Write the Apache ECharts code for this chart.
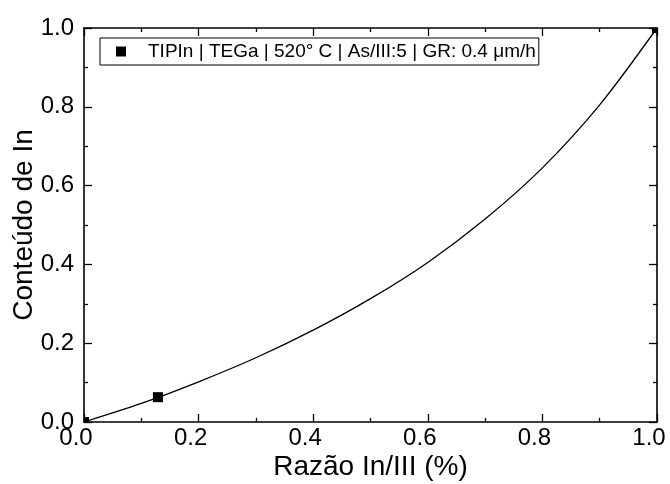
<!DOCTYPE html>
<html>
<head>
<meta charset="utf-8">
<script src="https://cdn.jsdelivr.net/npm/echarts@6/dist/echarts.min.js"></script>
<style>html,body{margin:0;padding:0;background:#fff}#c{width:670px;height:484px}</style>
</head>
<body>
<div id="c"></div>
<script>
// measured points
const pointX = [0.0, 0.129, 1.0];
const pointY = [0.0, 0.063, 1.0];
// fitted curve
const curveX = [0.0, 0.1, 0.2, 0.3, 0.4, 0.5, 0.6, 0.7, 0.8, 0.9, 1.0];
const curveY = [0.0, 0.047, 0.102, 0.163, 0.233, 0.313, 0.405, 0.515, 0.645, 0.805, 1.0];
const seriesName = 'TIPIn | TEGa | 520° C | As/III:5 | GR: 0.4 μm/h';
const xTitle = 'Razão In/III (%)';
const yTitle = 'Conteúdo de In';

const font = 'Arial, "Liberation Sans", sans-serif';
const chart = echarts.init(document.getElementById('c'));

function axisBase(show) {
  return {
    type: 'value', min: 0, max: 1, interval: 0.2,
    axisLine: { show: true, onZero: false, lineStyle: { color: '#000', width: 1.6 } },
    axisTick: { show: true, inside: true, length: 8, lineStyle: { color: '#000', width: 1.3 } },
    minorTick: { show: true, splitNumber: 2, length: 4, lineStyle: { color: '#000', width: 1.3 } },
    splitLine: { show: false },
    axisLabel: { show: show, color: '#000', fontSize: 24, fontFamily: font,
      formatter: v => v.toFixed(1) }
  };
}

const xMain = Object.assign(axisBase(true), {
  position: 'bottom', name: xTitle, nameLocation: 'middle', nameGap: 31,
  nameMoveOverlap: false,
  nameTextStyle: { color: '#000', fontSize: 28, fontFamily: font },
});
xMain.axisLabel.margin = 4;
xMain.axisLabel.padding = [0, 16, 0, 0];
const xTop = Object.assign(axisBase(false), { position: 'top' });
const yMain = Object.assign(axisBase(true), {
  position: 'left', name: yTitle, nameLocation: 'middle', nameGap: 46,
  nameMoveOverlap: false,
  nameTextStyle: { color: '#000', fontSize: 28, fontFamily: font },
});
yMain.axisLabel.margin = 10;
const yRight = Object.assign(axisBase(false), { position: 'right' });

const pts = pointX.map((x, i) => [x, pointY[i]]);
chart.setOption({
  animation: false,
  backgroundColor: '#fff',
  grid: { left: 84, right: 13, top: 28, bottom: 62, containLabel: false, outerBoundsMode: 'none' },
  xAxis: [xMain, xTop],
  yAxis: [yMain, yRight],
  legend: {
    data: [seriesName],
    left: 100, top: 38,
    orient: 'horizontal',
    borderColor: '#000', borderWidth: 1,
    padding: [4, 3, 4, 16],
    itemWidth: 10, itemHeight: 10,
    icon: 'rect',
    itemStyle: { color: '#000', opacity: 1 },
    textStyle: { color: '#000', fontSize: 19, fontFamily: font, padding: [0, 0, 0, 17] }
  },
  series: [
    {
      name: 'fit', type: 'line', xAxisIndex: 0, yAxisIndex: 0,
      data: curveX.map((x, i) => [x, curveY[i]]),
      smooth: 0.3, showSymbol: false, symbol: 'none',
      lineStyle: { color: '#000', width: 1.3 }, z: 2
    },
    {
      name: seriesName, type: 'scatter', xAxisIndex: 0, yAxisIndex: 0,
      data: pts.slice(1, 2),
      symbol: 'rect', symbolSize: 10,
      itemStyle: { color: '#000', opacity: 1 }, z: 3
    },
    {
      name: 'corner0', type: 'scatter', data: pts.slice(0, 1),
      symbol: 'rect', symbolSize: 5, symbolOffset: [2.5, -2.5],
      itemStyle: { color: '#000', opacity: 1 }, z: 3
    },
    {
      name: 'corner1', type: 'scatter', data: pts.slice(2, 3),
      symbol: 'rect', symbolSize: 5, symbolOffset: [-2.5, 2.5],
      itemStyle: { color: '#000', opacity: 1 }, z: 3
    }
  ]
});
</script>
</body>
</html>
